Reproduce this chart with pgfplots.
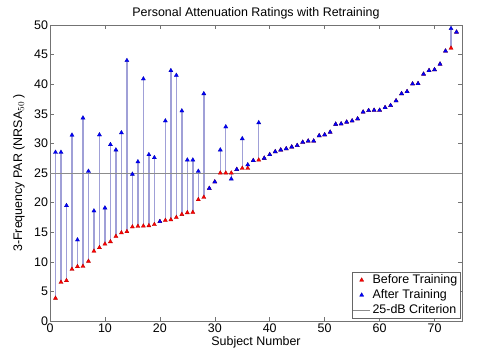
\documentclass[border=0pt]{standalone}
\usepackage{fontspec}
\setmainfont{Liberation Sans}
\usepackage{pgfplots}
\usepackage{pgfplotstable}
\pgfplotsset{compat=1.18}
\definecolor{stem}{RGB}{160,160,215}
\definecolor{crit}{RGB}{140,140,140}
\pgfplotstableread{
x before after
1 3.85 28.5
2 6.55 28.5
3 6.83 19.5
4 8.74 31.4
5 9.19 13.7
6 9.24 34.3
7 10.1 25.3
8 11.8 18.6
9 12.4 31.45
10 13.0 19.1
11 13.4 29.8
12 14.3 28.9
13 14.9 31.8
14 15.1 44.0
15 15.9 24.8
16 16.0 26.9
17 16.05 40.9
18 16.1 28.1
19 16.3 27.6
20 16.8 16.8
21 17.0 33.8
22 17.1 42.3
23 17.5 41.5
24 18.0 35.5
25 18.3 27.2
26 18.35 27.2
27 20.5 25.3
28 20.9 38.4
29 22.4 22.4
30 23.5 23.5
31 25.0 28.9
32 25.0 32.8
33 25.0 24.0
34 25.6 25.6
35 25.8 30.8
36 25.8 26.4
37 27.1 27.1
38 27.2 33.5
39 27.5 27.5
40 28.1 28.1
41 28.6 28.6
42 28.9 28.9
43 29.1 29.1
44 29.4 29.4
45 29.65 29.65
46 30.2 30.2
47 30.4 30.4
48 30.4 30.4
49 31.3 31.3
50 31.45 31.45
51 31.9 31.9
52 33.25 33.25
53 33.3 33.3
54 33.6 33.6
55 33.8 33.8
56 34.15 34.15
57 35.3 35.3
58 35.55 35.55
59 35.6 35.6
60 35.6 35.6
61 36.05 36.05
62 36.4 36.4
63 37.2 37.2
64 38.4 38.4
65 38.75 38.75
66 40.05 40.05
67 40.1 40.1
68 41.7 41.7
69 42.3 42.3
70 42.45 42.45
71 43.4 43.4
72 45.6 45.6
73 46.1 49.4
74 48.8 48.8
}\datatable
\begin{document}
\begin{tikzpicture}
\begin{axis}[
  scale only axis,
  width=412bp, height=296bp,
  xmin=0, xmax=75, ymin=0, ymax=50,
  xtick={0,10,...,70}, ytick={0,5,...,50},
  tick align=inside,
  major tick length=4bp,
  tick style={black!55, line width=0.5bp},
  axis line style={line width=0.7bp, black!55},
  /pgf/number format/assume math mode=true,
  tick label style={font=\fontsize{12.5}{14}\selectfont},
  xticklabel style={yshift=0.5bp},
  yticklabel style={xshift=1.5bp},
  label style={font=\fontsize{12.5}{14}\selectfont},
  title style={font=\fontsize{12.5}{14}\selectfont, yshift=-4bp},
  title={Personal Attenuation Ratings with Retraining},
  xlabel={Subject Number},
  ylabel={3-Frequency PAR (NRSA$_{50}$ )},
  xlabel style={yshift=3bp},
  every axis y label/.style={at={([xshift=-31bp]rel axis cs:0,0.5)}, rotate=90, anchor=center, font=\fontsize{12.5}{14}\selectfont},
  legend style={at={(rel axis cs:0.995,0.01)}, anchor=south east, font=\fontsize{12.5}{14}\selectfont, draw=black!60, line width=0.4bp, inner sep=0.5bp, row sep=0.5bp, cells={anchor=west}},
  legend cell align=left,
]
\coordinate (ll) at (rel axis cs:0,0);
\coordinate (ur) at (rel axis cs:1,1);
\addplot[draw=none, forget plot, mark=none,
  error bars/.cd, y dir=plus, y explicit,
  error bar style={stem, line width=1.4bp}, error mark=none]
  table[x=x, y=before, y error plus expr=\thisrow{after}-\thisrow{before}] {\datatable};
\addplot[only marks, mark=triangle*, mark size=2.4bp, color=red, mark options={fill=red, draw=red!70!black, line width=0.3bp}]
  table[x=x, y=before] {\datatable};
\addlegendentry{Before Training}
\addplot[only marks, mark=triangle*, mark size=2.4bp, color=blue, mark options={fill=blue, draw=blue!70!black, line width=0.3bp}]
  table[x=x, y=after] {\datatable};
\addlegendentry{After Training}
\addplot[crit, line width=0.8bp] coordinates {(0,25) (75,25)};
\addlegendentry{25-dB Criterion}
\end{axis}
\path ([shift={(-50bp,-39bp)}]ll) rectangle ([shift={(18bp,25bp)}]ur);
\end{tikzpicture}
\end{document}
